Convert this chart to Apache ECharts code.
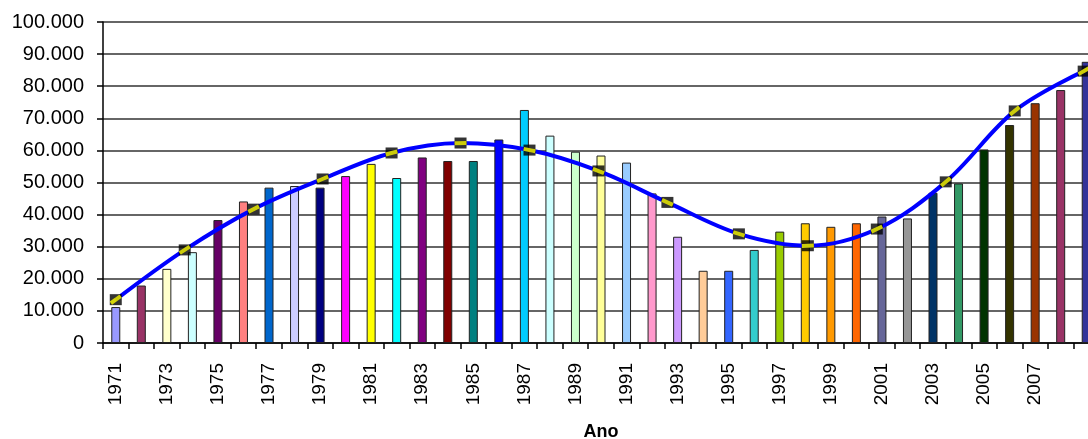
<!DOCTYPE html>
<html>
<head>
<meta charset="utf-8">
<script src="https://cdn.jsdelivr.net/npm/echarts@6/dist/echarts.min.js"></script>
<style>
html,body{margin:0;padding:0;background:#fff;}
#chart{width:1088px;height:439px;}
</style>
</head>
<body>
<div id="chart"></div>
<script>
const categories = ['1971','1972','1973','1974','1975','1976','1977','1978','1979','1980',
  '1981','1982','1983','1984','1985','1986','1987','1988','1989','1990',
  '1991','1992','1993','1994','1995','1996','1997','1998','1999','2000',
  '2001','2002','2003','2004','2005','2006','2007','2008','2009'];
const barValues = [11200,17900,23100,28300,38300,44100,48400,48900,48400,52000,
  55800,51400,57800,56700,56700,63400,72600,64600,59600,58400,
  56200,46600,33100,22500,22500,29000,34700,37300,36200,37300,
  39400,38800,46800,49700,60300,67900,74700,78800,87600];
const barColors = ['#9999FF','#993366','#FFFFCC','#CCFFFF','#660066','#FF8080','#0066CC','#CCCCFF','#000080','#FF00FF',
  '#FFFF00','#00FFFF','#800080','#800000','#008080','#0000FF','#00CCFF','#CCFFFF','#CCFFCC','#FFFF99',
  '#99CCFF','#FF99CC','#CC99FF','#FFCC99','#3366FF','#33CCCC','#99CC00','#FFCC00','#FF9900','#FF6600',
  '#666699','#969696','#003366','#339966','#003300','#333300','#993300','#993366','#333399'];
const trendYears = [1971.0,1973.7,1976.4,1979.1,1981.8,1984.5,1987.2,1989.9,1992.6,1995.4,1998.1,2000.8,2003.5,2006.2,2008.9];
const trendValues = [13500,29000,41700,51100,59200,62300,60100,53600,43800,34000,30300,35500,50200,72300,84700];
const yTicks = [0,10000,20000,30000,40000,50000,60000,70000,80000,90000,100000];

const GRID = {left:103, top:22, width:996, height:321, outerBoundsMode:'none', containLabel:false};
const pxPerYear = GRID.width / categories.length;
const pxPerValue = GRID.height / (yTicks[yTicks.length-1] - yTicks[0]);

function fmt(v){ return String(v).replace(/\B(?=(\d{3})+(?!\d))/g,'.'); }

const trendPts = trendYears.map((x,i)=>[x, trendValues[i]]);
const rotations = trendPts.map((p,i)=>{
  const a = trendPts[Math.max(0,i-1)], b = trendPts[Math.min(trendPts.length-1,i+1)];
  const dx = (b[0]-a[0])*pxPerYear, dy = (b[1]-a[1])*pxPerValue;
  return Math.atan2(dy, dx)*180/Math.PI;
});

const chart = echarts.init(document.getElementById('chart'), null, {renderer:'canvas'});
chart.setOption({
  animation:false,
  backgroundColor:'#fff',
  grid:GRID,
  xAxis:[{
    type:'category', data:categories, boundaryGap:true,
    name:'Ano', nameLocation:'middle', nameGap:80,
    nameTextStyle:{fontFamily:'Liberation Sans', fontWeight:'bold', fontSize:18, color:'#000'},
    axisLine:{lineStyle:{color:'#000', width:1.5}},
    axisTick:{show:true, interval:0, length:6, lineStyle:{color:'#000', width:1.5}},
    axisLabel:{interval:(i)=> i%2===0 && i<categories.length-1, rotate:90, margin:20,
      fontFamily:'Liberation Sans', fontSize:19, color:'#000', hideOverlap:false},
    splitLine:{show:false}
  },{
    type:'value', min:1970.5, max:2009.5, show:false
  }],
  yAxis:{
    type:'value', min:0, max:100000, interval:10000,
    axisLine:{show:true, lineStyle:{color:'#000', width:1.5}},
    axisTick:{show:true, length:6, lineStyle:{color:'#000', width:1.5}},
    axisLabel:{formatter:fmt, margin:19, fontFamily:'Liberation Sans', fontSize:20, color:'#000'},
    splitLine:{show:true, lineStyle:{color:'#333', width:1.5}}
  },
  series:[{
    type:'bar', xAxisIndex:0, barWidth:9, z:2,
    data:barValues.map((v,i)=>({value:v, itemStyle:{color:barColors[i]}})),
    itemStyle:{borderColor:'#222', borderWidth:1}
  },{
    type:'line', xAxisIndex:1, data:trendPts, smooth:0.35, showSymbol:false, z:3,
    lineStyle:{color:'#0000FF', width:4}
  },{
    type:'scatter', xAxisIndex:1, data:trendPts, symbol:'rect', symbolSize:[12,11], z:4,
    itemStyle:{color:'#000'}
  },{
    type:'scatter', xAxisIndex:1, z:5, symbol:'rect', symbolSize:[12,4],
    data:trendPts.map((p,i)=>({value:p, symbolRotate:rotations[i]})),
    itemStyle:{color:'#FFFF00'}
  }]
});
</script>
</body>
</html>
